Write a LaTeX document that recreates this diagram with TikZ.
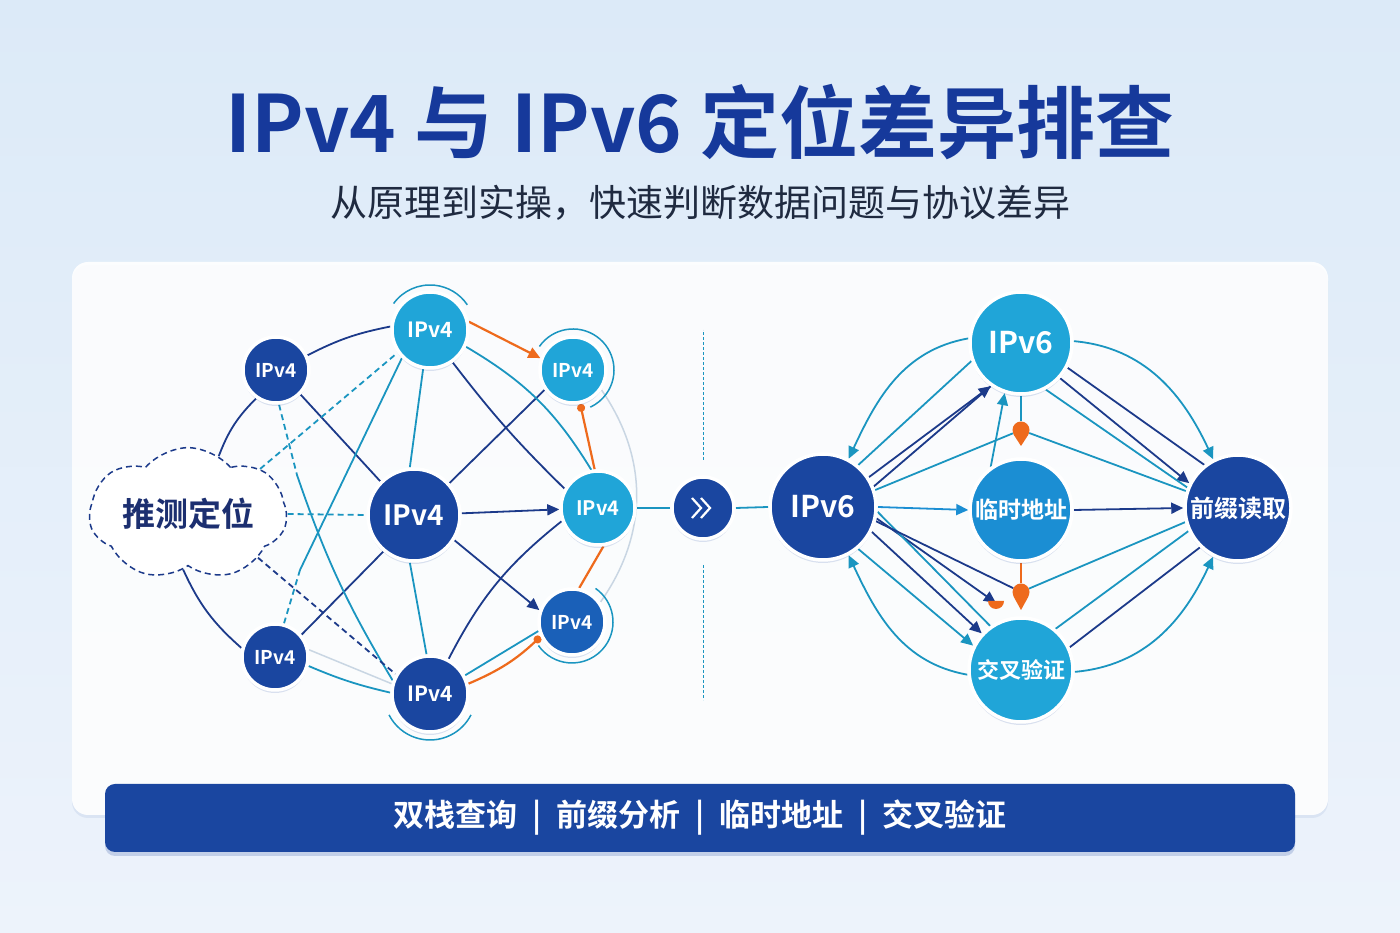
\documentclass[tikz,border=0pt]{standalone}
\usepackage{fontspec}
\newfontfamily\cjk{Noto Sans CJK SC}[BoldFont={Noto Sans CJK SC Bold}]
\usepackage{xcolor}
\usepackage{tikz}
\usetikzlibrary{arrows.meta, positioning, shapes.symbols, shadows, calc}

\definecolor{titleblue}{HTML}{16399B}
\definecolor{subgray}{HTML}{1F2A40}
\definecolor{dkblue}{HTML}{1A46A0}
\definecolor{midblue}{HTML}{1A60B8}
\definecolor{tmpblue}{HTML}{1B8ED3}
\definecolor{cyanblue}{HTML}{20A5D8}
\definecolor{navyline}{HTML}{1C3A8A}
\definecolor{tealline}{HTML}{1A95C0}
\definecolor{orangeline}{HTML}{EE6A1C}
\definecolor{faintline}{HTML}{C9D6E3}
\definecolor{bgtop}{HTML}{DCEAF8}
\definecolor{bgbot}{HTML}{EDF3FB}
\definecolor{cloudtext}{HTML}{1C2F70}

\pgfdeclarelayer{back}
\pgfdeclarelayer{edges}
\pgfsetlayers{back,edges,main}

\newcommand{\tagsep}{\hspace{15pt}|\hspace{15pt}}

\begin{document}
\begin{tikzpicture}[x=1pt, y=1pt,
    fs/.style={font=\cjk\bfseries\fontsize{#1}{#1}\selectfont},
    ipnode/.style={circle, draw=white, line width=3.5pt, text=white, inner sep=0pt,
        drop shadow={shadow xshift=0pt, shadow yshift=-3pt, fill=dkblue, opacity=0.15}},
    dknode/.style={ipnode, fill=dkblue},
    cynode/.style={ipnode, fill=cyanblue},
    navyln/.style={draw=navyline, line width=1.8pt},
    tealln/.style={draw=tealline, line width=1.8pt},
    faintln/.style={draw=faintline, line width=1.5pt},
    ringln/.style={draw=tealline, line width=1.5pt},
    orangeln/.style={draw=orangeline, line width=2.2pt},
    dashln/.style={dash pattern=on 6pt off 4pt},
    arr/.style={-{Triangle[length=12pt,width=11pt]}},
    dotarr/.style={-{Circle[length=8pt]}},
    pinball/.style={circle, fill=orangeline, minimum size=17pt, inner sep=0pt},
    banner/.style={rectangle, fill=dkblue, rounded corners=10pt, minimum width=1190pt, minimum height=68pt,
        text=white, fs=31, drop shadow={shadow xshift=0pt, shadow yshift=-4pt, fill=dkblue, opacity=0.2}}
]
    % Background and panel
    \begin{pgfonlayer}{back}
        \shade[top color=bgtop, bottom color=bgbot] (0,0) rectangle (1400,933);
        \path[fill=white, fill opacity=0.9, rounded corners=16pt,
            drop shadow={shadow xshift=0pt, shadow yshift=-3pt, fill=dkblue, opacity=0.08}] (72,118) rectangle (1328,671);
    \end{pgfonlayer}
    \useasboundingbox (0,0) rectangle (1400,933);

    % Titles
    \node[fs=79, text=titleblue] (title) at (700,811) {IPv4 与 IPv6 定位差异排查};
    \node[font=\cjk\fontsize{37}{37}\selectfont, text=subgray] (subtitle) at (700,730) {从原理到实操，快速判断数据问题与协议差异};

    % Left IPv4 mesh
    \node[dknode, minimum size=66pt, fs=19] (A) at (276,563) {IPv4};
    \node[cynode, minimum size=76pt, fs=21] (B) at (430,603) {IPv4};
    \node[cynode, minimum size=66pt, fs=19] (C) at (573,563) {IPv4};
    \node[dknode, minimum size=92pt, fs=28] (D) at (414,418) {IPv4};
    \node[cynode, minimum size=74pt, fs=20] (E) at (598,425) {IPv4};
    \node[ipnode, fill=midblue, minimum size=66pt, fs=19] (F) at (572,311) {IPv4};
    \node[dknode, minimum size=66pt, fs=19] (G) at (275,276) {IPv4};
    \node[dknode, minimum size=76pt, fs=21] (H) at (430,239) {IPv4};
    \node[cloud, cloud puffs=7, cloud puff arc=100, aspect=1.9, draw=navyline, dashln, line width=1.5pt, fill=white,
        minimum width=172pt, minimum height=108pt, fs=33, text=cloudtext] (guess) at (188,419) {推测定位};

    % Middle switch
    \node[dknode, minimum size=62pt] (chev) at (703,425) {};
    \draw[white, line width=2.2pt] ([xshift=-11pt,yshift=10pt]chev.center) -- ++(9pt,-10pt) -- ++(-9pt,-10pt);
    \draw[white, line width=2.2pt] ([xshift=-2pt,yshift=10pt]chev.center) -- ++(9pt,-10pt) -- ++(-9pt,-10pt);

    % Right IPv6 mesh
    \node[dknode, minimum size=106pt, fs=30] (P) at (823,426) {IPv6};
    \node[cynode, minimum size=102pt, fs=30] (Q) at (1021,590) {IPv6};
    \node[ipnode, fill=tmpblue, minimum size=102pt, fs=23] (R) at (1021,423) {临时地址};
    \node[cynode, minimum size=104pt, fs=22] (S) at (1021,263) {交叉验证};
    \node[dknode, minimum size=106pt, fs=24] (T) at (1238,425) {前缀读取};

    % Orange markers
    \node[pinball] (pinA) at (1021,503) {};
    \fill[orangeline] (pinA.-30) -- ($(pinA)+(0,-16)$) -- (pinA.-150) -- cycle;
    \node[pinball] (pinB) at (1021,341) {};
    \fill[orangeline] (pinB.-30) -- ($(pinB)+(0,-18)$) -- (pinB.-150) -- cycle;
    \coordinate (mk) at (996,330);
    \fill[orangeline] ($(mk)+(-8,2)$) arc[start angle=180, end angle=360, radius=8pt] -- cycle;

    % Bottom banner
    \node[banner] (tags) at (700,115) {双栈查询\tagsep 前缀分析\tagsep 临时地址\tagsep 交叉验证};

    \begin{pgfonlayer}{edges}
        % left: navy links
        \draw[navyln] (A.25) to[bend left=8] (B.175);
        \draw[navyln] (A.235) to[bend right=12] (guess.62);
        \draw[navyln] (A.-45) -- (D.135);
        \draw[navyln] (guess.-95) to[bend right=12] (G.165);
        \draw[navyln] (G.40) -- (D.-130);
        \draw[navyln] (C.215) -- (D.42);
        \draw[navyln] (B.-55) to[bend right=4] (E.150);
        \draw[navyln] (E.200) to[bend right=12] (H.62);
        \draw[navyln, arr] (D.2) -- (E.182);
        \draw[navyln, arr] (D.-32) -- (F.160);
        % left: teal links
        \draw[tealln] (B.-100) -- (D.95);
        \draw[tealln] (D.-95) -- (H.95);
        \draw[tealln] (B.-25) to[bend left=14] (E.100);
        \draw[tealln] (F.195) -- (H.28);
        \draw[tealln] (G.-15) to[bend right=5] (H.178);
        \draw[faintln] (G.12) -- (H.165);
        \draw[faintln] (C.-35) to[bend left=35] (F.35);
        \coordinate (ahmid) at (297,458);
        \draw[tealln, dashln] (A.-85) -- (ahmid);
        \draw[tealln] (ahmid) to[bend right=6] (H.160);
        \coordinate (gbmid) at (300,363);
        \draw[tealln, dashln] (G.75) -- (gbmid);
        \draw[tealln] (gbmid) -- (B.225);
        % left: guess links
        \draw[tealln, dashln] (guess.32) -- (B.215);
        \draw[tealln, dashln] (guess.east) -- (D.west);
        \draw[navyln, dashln] (guess.-32) -- (H.150);
        % left: orange flows
        \draw[orangeln, arr] (B.12) -- (C.160);
        \draw[orangeln, dotarr] (E.95) -- (C.-78);
        \draw[orangeln] (F.78) -- (E.-82);
        \draw[orangeln, dotarr] (H.15) to[bend right=10] (F.205);
        % rings
        \draw[ringln] (B) ++(144:45pt) arc[start angle=144, end angle=34, radius=45pt];
        \draw[ringln] (C) ++(145:41pt) arc[start angle=145, end angle=-65, radius=41pt];
        \draw[ringln] (F) ++(55:41pt) arc[start angle=55, end angle=-145, radius=41pt];
        \draw[ringln] (H) ++(207:46pt) arc[start angle=207, end angle=333, radius=46pt];

        % middle
        \draw[tealln] (E.east) -- (chev.west);
        \draw[tealln] (chev.east) -- (P.west);
        \draw[tealln, densely dashed, line width=1pt] ($(chev)+(0,48)$) -- ($(chev)+(0,178)$);
        \draw[tealln, densely dashed, line width=1pt] ($(chev)+(0,-57)$) -- ($(chev)+(0,-192)$);

        % right: outer arcs
        \draw[tealln, arr] (Q.175) to[out=190, in=65] (P.62);
        \draw[tealln, arr] (S.185) to[out=170, in=-65] (P.-62);
        \draw[tealln, arr] (Q.2) to[out=-5, in=115] (T.117);
        \draw[tealln, arr] (S.-2) to[out=5, in=-115] (T.-117);
        % right: IPv6 -> others
        \draw[navyln] (P.22) -- (Q.235);
        \draw[navyln, arr] (P.33) -- (Q.235);
        \draw[tealln] (P.50) -- (Q.200);
        \draw[tealln, arr] (R.125) -- (Q.252);
        \draw[tealln] (P.18) -- (pinA);
        \draw[tealln] (pinA) -- (T.162);
        \draw[tealln] (Q.south) -- (pinA);
        \draw[draw=tmpblue, line width=1.8pt, arr] (P.east) -- (R.west);
        \draw[navyln, arr] (P.-27) -- (S.137);
        \draw[navyln, arr] (P.-12) -- (mk);
        \draw[tealln, arr] (P.-50) -- (S.153);
        \draw[tealln] (P.-5) -- (S.125);
        \draw[navyln] (P.-15) -- (pinB);
        % right: into prefix reading
        \draw[navyln, arr] (R.east) -- (T.west);
        \draw[navyln, arr] (Q.-42) -- (T.153);
        \draw[navyln] (Q.-28) -- (T.128);
        \draw[tealln] (Q.-62) -- (T.158);
        \draw[tealln] (pinB) -- (T.-165);
        \draw[navyln] (S.25) -- (T.-134);
        \draw[tealln] (S.50) -- (T.-155);
        \draw[orangeln] (R.south) -- (pinB);
    \end{pgfonlayer}
\end{tikzpicture}
\end{document}
